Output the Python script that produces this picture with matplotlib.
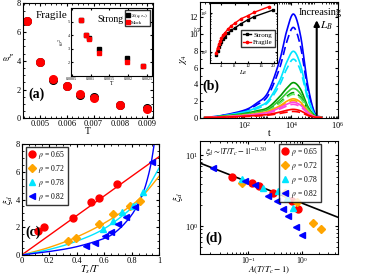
import numpy as np
import matplotlib
matplotlib.use("Agg")
import matplotlib.pyplot as plt

plt.rcParams['font.family'] = ['Liberation Serif', 'DejaVu Serif']
plt.rcParams['mathtext.fontset'] = 'stix'
plt.rcParams['xtick.direction'] = 'in'
plt.rcParams['ytick.direction'] = 'in'
plt.rcParams['xtick.top'] = True
plt.rcParams['ytick.right'] = True
plt.rcParams['xtick.labelsize'] = 6
plt.rcParams['ytick.labelsize'] = 6
plt.rcParams['xtick.major.size'] = 2.5
plt.rcParams['ytick.major.size'] = 2.5
plt.rcParams['xtick.minor.size'] = 1.3
plt.rcParams['ytick.minor.size'] = 1.3
plt.rcParams['xtick.major.pad'] = 1.5
plt.rcParams['ytick.major.pad'] = 1.5
plt.rcParams['axes.linewidth'] = 0.8

# ---- (a) fragile / strong
T_frag = [0.0045, 0.005, 0.0055, 0.006, 0.0065, 0.007, 0.008, 0.009]
w_frag_S = [6.8, 3.9, 2.65, 2.25, 1.65, 1.45, 0.95, 0.75]
w_frag_mock = [6.8, 3.9, 2.75, 2.25, 1.7, 1.42, 0.92, 0.65]
T_strong = [0.00074, 0.000865, 0.00096, 0.00123, 0.00197, 0.00239]
w_strong_S = [5.1, 4.05, 3.8, 3.0, 2.3, 1.75]
w_strong_mock = [5.1, 4.0, 3.75, 2.7, 2.0, 1.7]

# ---- (b) chi4(t), values at log10(t)
logt = [0.3, 1, 2, 2.5, 3, 3.5, 3.8, 4.1, 4.4, 4.7, 5.0, 5.3]
chi4_curves = [
    ('#0000ff', '-',  [0.02, 0.25, 0.9, 1.7, 3.0, 6.8, 10.3, 12.4, 9.8, 4.0, 0.6, 0.05]),
    ('#0000ff', '--', [0.02, 0.22, 0.8, 1.5, 2.6, 5.9, 9.0, 10.8, 8.5, 3.5, 0.5, 0.04]),
    ('#00e5ff', '-',  [0.02, 0.2, 0.7, 1.2, 2.0, 4.4, 6.6, 7.95, 6.3, 2.6, 0.4, 0.03]),
    ('#00e5ff', '--', [0.02, 0.18, 0.62, 1.05, 1.8, 3.9, 5.8, 7.0, 5.6, 2.3, 0.35, 0.03]),
    ('#009900', '-',  [0.02, 0.15, 0.5, 0.8, 1.2, 2.5, 3.5, 4.2, 3.4, 1.4, 0.25, 0.02]),
    ('#33cc33', '-',  [0.02, 0.13, 0.42, 0.68, 1.0, 2.1, 2.95, 3.5, 2.85, 1.2, 0.2, 0.02]),
    ('#009900', '--', [0.02, 0.12, 0.38, 0.6, 0.9, 1.8, 2.55, 3.0, 2.45, 1.05, 0.18, 0.02]),
    ('#66ee66', '--', [0.02, 0.11, 0.35, 0.55, 0.85, 1.7, 2.4, 2.8, 2.3, 1.0, 0.17, 0.02]),
    ('#ffa500', '-',  [0.01, 0.1, 0.3, 0.5, 0.75, 1.4, 1.95, 2.26, 1.85, 0.8, 0.14, 0.01]),
    ('#ffa500', '--', [0.01, 0.09, 0.28, 0.45, 0.68, 1.3, 1.78, 2.05, 1.68, 0.72, 0.13, 0.01]),
    ('#ff44dd', '-',  [0.01, 0.08, 0.26, 0.42, 0.62, 1.18, 1.6, 1.85, 1.5, 0.65, 0.12, 0.01]),
    ('#ff44dd', '--', [0.01, 0.07, 0.23, 0.37, 0.55, 1.02, 1.4, 1.6, 1.3, 0.56, 0.1, 0.01]),
    ('#ff0000', '-',  [0.01, 0.05, 0.17, 0.26, 0.38, 0.66, 0.88, 1.0, 0.82, 0.36, 0.07, 0.01]),
    ('#ff0000', '--', [0.01, 0.04, 0.13, 0.2, 0.3, 0.5, 0.66, 0.75, 0.62, 0.27, 0.05, 0.01]),
]
LB_strong = [2.4, 2.8, 3.2, 3.6, 4.0, 4.5, 5.0, 6.0, 7.0, 8.0, 10.0, 12.0, 14.0, 19.8]
xi_strong = [0.82, 1.05, 1.3, 1.55, 1.8, 2.1, 2.35, 2.95, 3.5, 4.0, 5.2, 6.5, 7.9, 11.7]
LB_frag = [2.4, 2.8, 3.2, 3.6, 4.0, 4.5, 5.0, 6.0, 7.0, 8.0, 10.0, 12.0, 14.0, 18.6]
xi_frag = [0.94, 1.25, 1.55, 1.85, 2.2, 2.7, 3.0, 3.8, 4.6, 5.3, 7.0, 8.3, 10.2, 14.3]

# ---- (c) xi_d vs Ts/T
rhos = ['0.65', '0.72', '0.78', '0.82']
cols = ['#ff0000', '#ffa500', '#00e5ff', '#0000ff']
marks = ['o', 'D', '^', '<']
c_x = [[0.12, 0.165, 0.37, 0.5, 0.56, 0.69],
       [0.334, 0.395, 0.56, 0.66, 0.787, 0.86],
       [0.593, 0.66, 0.726, 0.806, 0.884],
       [0.47, 0.53, 0.605, 0.65, 0.70, 0.76, 0.82, 0.944]]
c_y = [[1.7, 2.0, 2.7, 3.8, 4.1, 5.1],
       [0.99, 1.23, 2.24, 2.96, 3.56, 3.9],
       [1.88, 2.48, 3.08, 3.56, 4.52],
       [0.67, 0.87, 1.39, 1.68, 2.24, 2.76, 3.44, 6.73]]
fit_x = [[0, 1.0],
         [0, 0.2, 0.4, 0.6, 0.8, 0.9, 1.0],
         [0, 0.2, 0.4, 0.6, 0.8, 0.9, 1.0],
         [0, 0.2, 0.4, 0.6, 0.7, 0.8, 0.86, 0.9, 0.94, 0.97]]
fit_y = [[0, 7.1],
         [0, 0.55, 1.3, 2.3, 3.6, 4.5, 5.7],
         [0, 0.4, 1.0, 1.9, 3.4, 4.6, 6.3],
         [0, 0.25, 0.6, 1.2, 1.8, 2.9, 4.0, 5.0, 6.6, 8.5]]

# ---- (d) scaling plot
d_x = [[0.049, 0.116, 0.158, 0.29, 0.64, 0.84],
       [0.075, 0.48, 0.79, 1.6, 2.22],
       [0.075, 0.19, 0.36, 0.51, 0.68],
       [0.0225, 0.087, 0.133, 0.234, 0.336, 0.445, 0.55, 0.76, 0.975]]
d_y = [[4.96, 4.02, 3.74, 2.94, 2.26, 1.74],
       [4.05, 2.94, 2.21, 1.12, 0.91],
       [4.6, 3.51, 3.1, 2.51, 1.78],
       [6.58, 4.32, 3.81, 2.65, 2.26, 1.74, 1.41, 0.96, 0.74]]
line_x = [0.0128, 4.5]
line_y = [7.8, 1.34]


def smooth(x, y, n=20):
    # Catmull-Rom through the read-off points
    x = np.asarray(x, float); y = np.asarray(y, float)
    px = np.concatenate([[2*x[0]-x[1]], x, [2*x[-1]-x[-2]]])
    py = np.concatenate([[2*y[0]-y[1]], y, [2*y[-1]-y[-2]]])
    t = np.linspace(0, 1, n, endpoint=False)
    ox, oy = [], []
    for i in range(1, len(px)-2):
        for p, o in ((px, ox), (py, oy)):
            p0, p1, p2, p3 = p[i-1], p[i], p[i+1], p[i+2]
            o.extend(0.5*(2*p1 + (-p0+p2)*t + (2*p0-5*p1+4*p2-p3)*t**2 + (-p0+3*p1-3*p2+p3)*t**3))
    ox.append(x[-1]); oy.append(y[-1])
    return np.array(ox), np.array(oy)


fig = plt.figure(figsize=(3.7, 2.78), dpi=100)

# (a)
ax = fig.add_axes([0.0614, 0.5745, 0.352, 0.4135])
ax.plot(T_frag, w_frag_S, 'o', color='k', ms=5.5)
ax.plot(T_frag, w_frag_mock, 'o', color='#ff0000', ms=5.5)
ax.set_xlim(0.00435, 0.00922)
ax.set_ylim(0, 8)
ax.set_xticks([0.005, 0.006, 0.007, 0.008, 0.009])
ax.set_xticklabels(['0.005', '0.006', '0.007', '0.008', '0.009'])
ax.set_yticks([0, 2, 4, 6, 8])
ax.minorticks_on()
ax.set_xlabel('T', fontsize=7, labelpad=-1)
ax.set_ylabel(r'$\omega^P$', fontsize=6.5, labelpad=-1, rotation=0)
ax.yaxis.set_label_coords(-0.11, 0.47)
ax.text(0.1, 0.87, 'Fragile', transform=ax.transAxes, fontsize=8)
ax.text(0.04, 0.18, '(a)', transform=ax.transAxes, fontsize=10, fontweight='bold')

ai = fig.add_axes([0.192, 0.7266, 0.219, 0.2446])
ai.plot(T_strong, w_strong_S, 's', color='k', ms=2.8, label=r'$S_f(q,\tau_\alpha)$')
ai.plot(T_strong, w_strong_mock, 's', color='#ff0000', ms=2.8, label='Mock')
ai.set_xlim(0.00048, 0.00263)
ai.set_ylim(1, 6)
ai.set_xticks([0.0005, 0.001, 0.0015, 0.002, 0.0025])
ai.set_xticklabels(['0.0005', '0.001', '0.0015', '0.002', '0.0025'])
ai.set_yticks([2, 3, 4, 5])
ai.tick_params(labelsize=3, length=1.5, pad=1)
ai.set_xlabel('T', fontsize=4, labelpad=0)
ai.set_ylabel(r'$\omega^2$', fontsize=4, labelpad=1)
ai.text(0.32, 0.8, 'Strong', transform=ai.transAxes, fontsize=7)
ai.legend(loc='upper right', fontsize=3.5, handlelength=0.6, handletextpad=0.3,
          borderpad=0.3, labelspacing=0.2, fancybox=False, edgecolor='k')

# (b)
ax = fig.add_axes([0.5405, 0.5766, 0.373, 0.4164])
for col, ls, vals in chi4_curves:
    sx, sy = smooth(logt, vals)
    ax.plot(10**sx, np.clip(sy, 0, None), color=col, ls=ls, lw=1.2, dashes=(5, 2.5) if ls == '--' else (None, None))
ax.set_xscale('log')
ax.set_xlim(10**0.1, 1e6)
ax.set_ylim(0, 13.85)
ax.set_xticks([1e2, 1e4, 1e6])
ax.set_yticks([0, 2, 4, 6, 8, 10, 12])
ax.yaxis.set_minor_locator(matplotlib.ticker.MultipleLocator(1))
ax.set_xlabel('t', fontsize=7, labelpad=-1)
ax.set_ylabel(r'$\chi_4$', fontsize=7, labelpad=0)
ax.annotate('', xy=(10**5.09, 12.0), xytext=(10**5.09, 0),
            arrowprops=dict(arrowstyle='-|>', color='k', lw=1.5, mutation_scale=8))
ax.text(10**5.25, 12.6, 'Increasing', fontsize=7.5, ha='center', va='center', clip_on=False)
ax.text(10**5.5, 11.0, r'$L_B$', fontsize=8, ha='center', va='center')
ax.text(0.02, 0.24, '(b)', transform=ax.transAxes, fontsize=10, fontweight='bold')

bi = fig.add_axes([0.5676, 0.7734, 0.181, 0.2158])
bi.plot(LB_strong, xi_strong, '-s', color='k', ms=1.6, lw=1, label='Strong')
bi.plot(LB_frag, xi_frag, '-o', color='#ff0000', ms=1.6, lw=1, label='Fragile')
bi.set_yscale('log')
bi.set_xlim(0.5, 21)
bi.set_ylim(0.51, 17.7)
bi.set_xticks([4, 8, 12, 16, 20])
bi.tick_params(labelsize=3.5, length=1.5, pad=1)
bi.tick_params(which='minor', length=0.8)
bi.set_xlabel(r'$L_B$', fontsize=4.5, labelpad=0)
bi.set_ylabel(r'$\xi_4^c$', fontsize=4.5)
bi.yaxis.set_label_coords(-0.09, 0.58)
bi.legend(loc='lower right', bbox_to_anchor=(0.99, 0.24), fontsize=5, handlelength=1.2,
          handletextpad=0.3, borderpad=0.3, labelspacing=0.2, borderaxespad=0.2,
          fancybox=False, edgecolor='k')

# (c)
ax = fig.add_axes([0.0586, 0.0827, 0.372, 0.3993])
for i in range(4):
    if len(fit_x[i]) > 2:
        sx, sy = smooth(fit_x[i], fit_y[i])
    else:
        sx, sy = fit_x[i], fit_y[i]
    ax.plot(sx, sy, color=cols[i], lw=1)
for i in range(4):
    ax.plot(c_x[i], c_y[i], marks[i], color=cols[i], ms=5 if i == 0 else 4,
            label=r'$\rho$ = ' + rhos[i])
ax.set_xlim(0, 1)
ax.set_ylim(0, 8)
ax.set_xticks([0, 0.2, 0.4, 0.6, 0.8, 1])
ax.set_xticklabels(['0', '0.2', '0.4', '0.6', '0.8', '1'])
ax.minorticks_on()
ax.set_xlabel(r'$T_s/T$', fontsize=7.5, labelpad=-1.5)
ax.set_ylabel(r'$\xi_d$', fontsize=7, labelpad=0)
ax.text(0.03, 0.17, '(c)', transform=ax.transAxes, fontsize=10, fontweight='bold')
ax.legend(loc='upper left', bbox_to_anchor=(0.02, 0.99), fontsize=5.5, handlelength=1,
          handletextpad=0.3, borderpad=0.3, labelspacing=0.25, borderaxespad=0.2,
          fancybox=False, edgecolor='k')

# (d)
ax = fig.add_axes([0.5405, 0.088, 0.3722, 0.4048])
ax.plot(line_x, line_y, color='k', lw=1.2)
for i in range(4):
    ax.plot(d_x[i], d_y[i], marks[i], color=cols[i], ms=5 if i == 0 else 4,
            label=r'$\rho$ = ' + rhos[i])
ax.set_xscale('log')
ax.set_yscale('log')
ax.set_xlim(0.0128, 4.5)
ax.set_ylim(0.41, 16)
ax.tick_params(axis='x', pad=1, labelsize=5.5)
ax.set_xlabel(r'$A(T/T_c - 1)$', fontsize=6.5, labelpad=-0.5)
ax.set_ylabel(r'$\xi_d$', fontsize=7, labelpad=0)
ax.text(0.04, 0.88, r'$\xi_d \sim |T/T_c - 1|^{-0.30}$', transform=ax.transAxes, fontsize=6)
ax.text(0.04, 0.1, '(d)', transform=ax.transAxes, fontsize=10, fontweight='bold')
ax.legend(loc='upper right', bbox_to_anchor=(0.89, 0.99), fontsize=5.5, handlelength=1,
          handletextpad=0.3, borderpad=0.3, labelspacing=0.25, borderaxespad=0.2,
          fancybox=False, edgecolor='k')

fig.savefig('out.png', dpi=100)
